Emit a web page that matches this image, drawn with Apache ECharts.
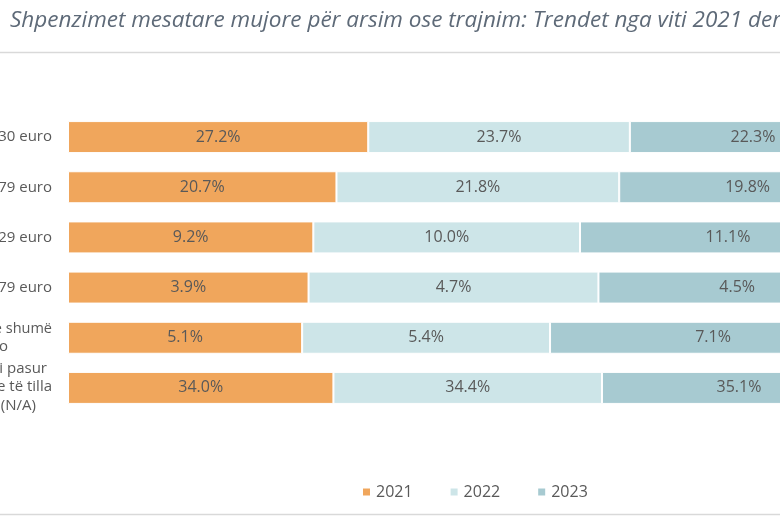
<!DOCTYPE html>
<html><head><meta charset="utf-8">
<script src="https://cdn.jsdelivr.net/npm/echarts@6/dist/echarts.min.js"></script>
<style>html,body{margin:0;padding:0;background:#fff}#c{width:780px;height:530px}</style>
</head><body><div id="c"></div>
<script>
const categories = ["Më pak se 30 euro", "30–79 euro", "80–129 euro", "130–179 euro", "180 euro ose shumë", "Nuk kemi pasur"];
const years = ["2021", "2022", "2023"];
const v2021 = [27.2, 20.7, 9.2, 3.9, 5.1, 34.0];
const v2022 = [23.7, 21.8, 10.0, 4.7, 5.4, 34.4];
const v2023 = [22.3, 19.8, 11.1, 4.5, 7.1, 35.1];
const colors = ["#F0A65C", "#CDE5E8", "#A7CAD1"];

const raw = [v2021, v2022, v2023];
const totals = categories.map((c, i) => raw.reduce((s, a) => s + a[i], 0));

const labelRich = {
  "180 euro ose shumë": "{e|180 euro ose shumë}\n{b|në muaj euro}",
  "Nuk kemi pasur": "{d|Nuk kemi pasur}\n{a|shpenzime të tilla}\n{c|(N/A)}"
};

const chart = echarts.init(document.getElementById('c'));
chart.setOption({
  animation: false,
  title: {
    text: "Shpenzimet mesatare mujore për arsim ose trajnim: Trendet nga viti 2021 deri në 2023",
    left: 5, top: 4,
    textStyle: { fontFamily: "Open Sans", fontStyle: "italic", fontWeight: "normal", fontSize: 22.5, color: "#5E6A78" }
  },
  legend: {
    data: years, left: 356, top: 479, itemWidth: 9, itemHeight: 9, itemGap: 36, icon: 'rect',
    textStyle: { fontFamily: "Open Sans", fontSize: 16, color: "#595959" }
  },
  grid: { left: 68, top: 112, width: 808, height: 301, containLabel: false, outerBoundsMode: 'none' },
  xAxis: { type: 'value', min: 0, max: 100, show: false },
  yAxis: {
    type: 'category', data: categories, inverse: true,
    axisLine: { show: false }, axisTick: { show: false },
    axisLabel: {
      margin: 16, align: 'right', color: '#595959', fontFamily: 'Open Sans', fontSize: 15, lineHeight: 19,
      formatter: v => labelRich[v] || v,
      rich: {
        a: { fontFamily: 'Open Sans', fontSize: 15, color: '#595959', lineHeight: 18 },
        e: { fontFamily: 'Open Sans', fontSize: 14.5, color: '#595959', lineHeight: 18 },
        b: { fontFamily: 'Open Sans', fontSize: 15, color: '#595959', lineHeight: 17, padding: [0, 44, 0, 0] },
        c: { fontFamily: 'Open Sans', fontSize: 15, color: '#595959', lineHeight: 20, padding: [0, 16, 0, 0] },
        d: { fontFamily: 'Open Sans', fontSize: 15, color: '#595959', lineHeight: 18, padding: [0, 5, 0, 0] }
      }
    }
  },
  series: years.map((y, k) => ({
    name: y, type: 'bar', stack: 'total', barWidth: 32,
    itemStyle: { color: colors[k], borderColor: '#fff', borderWidth: 1 },
    label: {
      show: true, position: 'inside', color: '#595959', fontFamily: 'Open Sans', fontSize: 16,
      formatter: p => raw[k][p.dataIndex].toFixed(1) + '%'
    },
    data: raw[k].map((v, i) => v / totals[i] * 100)
  })),
  graphic: [
    { type: 'line', shape: { x1: 0, y1: 52.5, x2: 780, y2: 52.5 }, style: { stroke: '#D9D9D9', lineWidth: 1.5 } },
    { type: 'line', shape: { x1: 0, y1: 514.5, x2: 780, y2: 514.5 }, style: { stroke: '#D9D9D9', lineWidth: 1.5 } }
  ]
});
</script></body></html>
